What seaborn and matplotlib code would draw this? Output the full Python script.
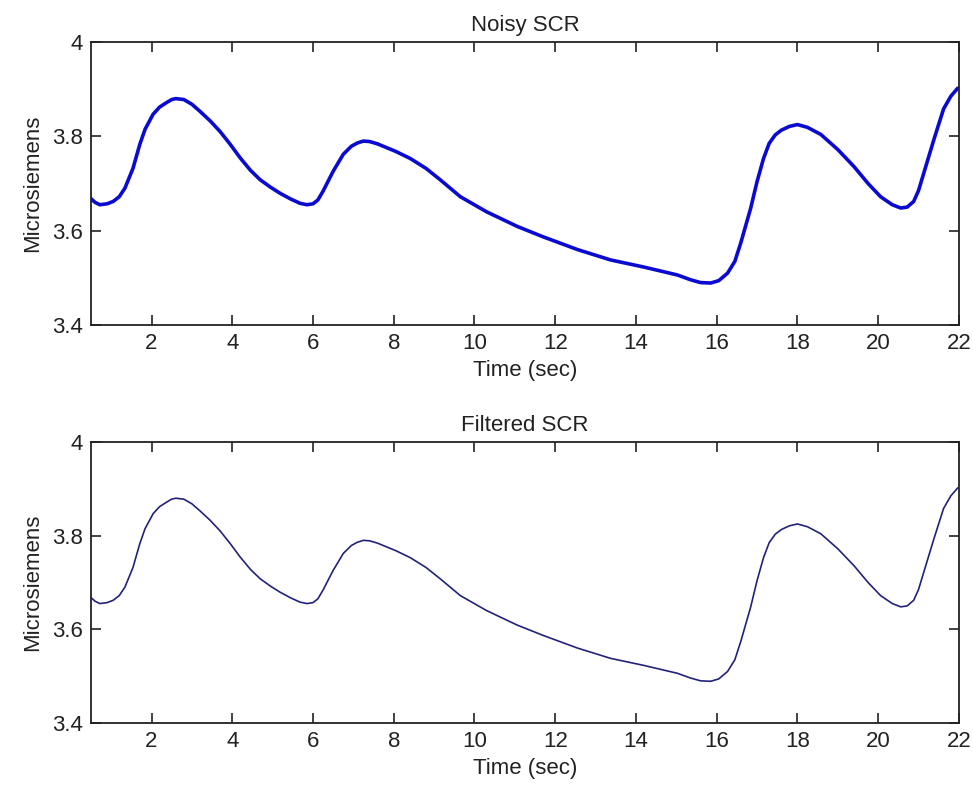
import matplotlib
matplotlib.use("Agg")
import matplotlib.pyplot as plt
import seaborn as sns
import pandas as pd

# Data (time in sec, conductance in microsiemens)
time_sec = [0.5, 0.6, 0.72, 0.9, 1.05, 1.2, 1.34, 1.54, 1.71, 1.84, 2.04,
            2.2, 2.38, 2.5, 2.6, 2.8, 3.0, 3.2, 3.45, 3.7, 3.95, 4.19, 4.45,
            4.69, 4.95, 5.19, 5.45, 5.68, 5.85, 6.0, 6.12, 6.25, 6.5, 6.75,
            6.95, 7.1, 7.25, 7.4, 7.6, 7.74, 8.05, 8.41, 8.8, 9.15, 9.65,
            10.3, 11.06, 11.7, 12.55, 13.37, 14.19, 15.03, 15.35, 15.6, 15.85,
            16.05, 16.27, 16.45, 16.6, 16.84, 17.0, 17.16, 17.3, 17.45, 17.6,
            17.8, 18.0, 18.25, 18.58, 19.0, 19.4, 19.75, 20.06, 20.35, 20.56,
            20.72, 20.88, 21.0, 21.13, 21.38, 21.62, 21.8, 21.97]
scr_values = [3.668, 3.660, 3.655, 3.657, 3.662, 3.672, 3.690, 3.732, 3.783,
              3.815, 3.847, 3.862, 3.872, 3.878, 3.880, 3.878, 3.868, 3.853,
              3.833, 3.810, 3.783, 3.755, 3.728, 3.708, 3.692, 3.679, 3.667,
              3.658, 3.655, 3.657, 3.665, 3.684, 3.726, 3.762, 3.779, 3.786,
              3.790, 3.789, 3.784, 3.779, 3.768, 3.753, 3.732, 3.708, 3.672,
              3.640, 3.609, 3.587, 3.560, 3.538, 3.523, 3.506, 3.496, 3.490,
              3.489, 3.494, 3.510, 3.535, 3.575, 3.647, 3.704, 3.753, 3.785,
              3.803, 3.813, 3.821, 3.825, 3.819, 3.804, 3.772, 3.736, 3.700,
              3.672, 3.655, 3.648, 3.650, 3.662, 3.685, 3.722, 3.793, 3.858,
              3.885, 3.902]

titles = ["Noisy SCR", "Filtered SCR"]
x_ticks = [2, 4, 6, 8, 10, 12, 14, 16, 18, 20, 22]
y_ticks = [3.4, 3.6, 3.8, 4.0]
y_tick_labels = ["3.4", "3.6", "3.8", "4"]

df = pd.DataFrame({"t": time_sec, "v": scr_values})

sns.set_style("ticks")
plt.rcParams["font.family"] = ["Liberation Sans", "DejaVu Sans"]
plt.rcParams["font.size"] = 16

fig = plt.figure(figsize=(9.73, 7.97), dpi=100)
ax1 = fig.add_axes([0.0935, 0.5922, 0.892, 0.3551])
ax2 = fig.add_axes([0.0935, 0.0929, 0.892, 0.3525])

sns.lineplot(data=df, x="t", y="v", ax=ax1, color="#0a0ad0", linewidth=2.6,
             estimator=None)
sns.lineplot(data=df, x="t", y="v", ax=ax2, color="#22227a", linewidth=1.2,
             estimator=None)

for ax, title in zip([ax1, ax2], titles):
    ax.set_xlim(0.5, 22)
    ax.set_ylim(3.4, 4.0)
    ax.set_xticks(x_ticks)
    ax.set_yticks(y_ticks)
    ax.set_yticklabels(y_tick_labels)
    ax.tick_params(direction="in", length=7, width=1.2, top=True, right=True,
                   labelsize=16, colors="#222222", pad=6)
    for s in ax.spines.values():
        s.set_visible(True)
        s.set_linewidth(1.3)
        s.set_color("#222222")
    ax.set_xlabel("Time (sec)", fontsize=16, color="#222222", labelpad=4)
    ax.set_ylabel("Microsiemens", fontsize=16, color="#222222", labelpad=6)
    ax.set_title(title, fontsize=16, color="#222222", pad=8)

fig.savefig("out.png", dpi=100, facecolor="white")
